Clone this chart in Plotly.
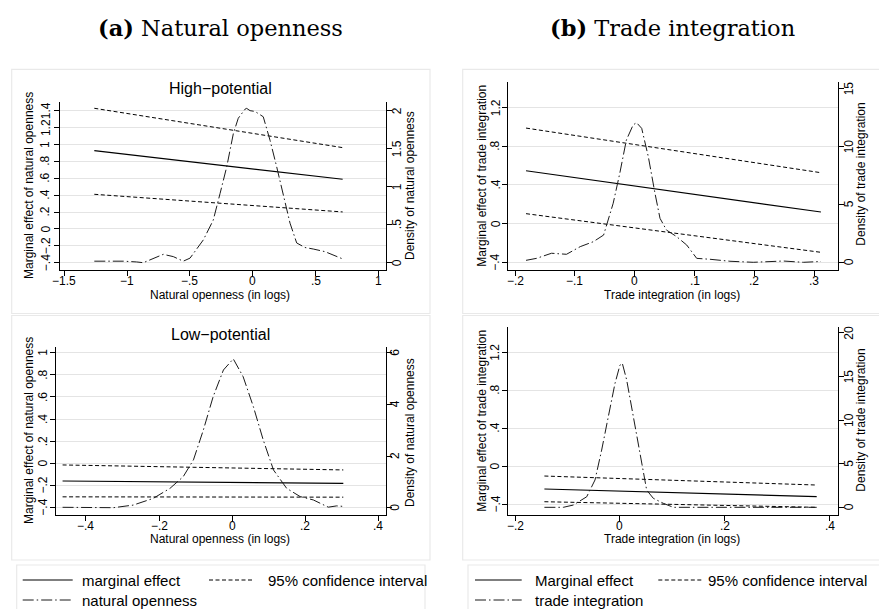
import plotly.graph_objects as go

W, H = 879, 609

# ---------------- data ----------------
# (a) natural openness, high-potential
nat_hi_x = [-1.261, 0.716]
nat_hi_me = [0.927, 0.588]
nat_hi_ci_up = [1.429, 0.963]
nat_hi_ci_lo = [0.410, 0.201]
nat_hi_dens_x = [-1.261, -1.030, -0.924, -0.871, -0.712, -0.632, -0.553, -0.499, -0.393,
                 -0.314, -0.260, -0.207, -0.154, -0.115, -0.061, -0.048, -0.021, 0.018,
                 0.084, 0.138, 0.191, 0.244, 0.297, 0.350, 0.416, 0.482, 0.576, 0.716]
nat_hi_dens_y = [0.02, 0.02, 0.01, 0.00, 0.11, 0.08, 0.02, 0.06, 0.30,
                 0.56, 0.91, 1.26, 1.70, 1.90, 2.02, 2.03, 2.00, 1.99,
                 1.92, 1.61, 1.26, 0.87, 0.52, 0.26, 0.20, 0.18, 0.145, 0.05]

# (a) natural openness, low-potential
nat_lo_x = [-0.464, 0.304]
nat_lo_me = [-0.159, -0.180]
nat_lo_ci_up = [-0.014, -0.059]
nat_lo_ci_lo = [-0.302, -0.305]
nat_lo_dens_x = [-0.464, -0.325, -0.271, -0.216, -0.170, -0.134, -0.106, -0.079, -0.052,
                 -0.024, 0.003, 0.030, 0.058, 0.085, 0.113, 0.149, 0.186, 0.222,
                 0.263, 0.286, 0.304]
nat_lo_dens_y = [0.015, 0.00, 0.10, 0.36, 0.75, 1.20, 1.85, 3.00, 4.30,
                 5.33, 5.76, 5.07, 3.91, 2.62, 1.46, 0.75, 0.43, 0.30,
                 0.02, 0.07, 0.05]

# (b) trade integration, high-potential
trd_hi_x = [-0.1816, 0.311]
trd_hi_me = [0.547, 0.120]
trd_hi_ci_up = [0.989, 0.527]
trd_hi_ci_lo = [0.103, -0.297]
trd_hi_dens_x = [-0.1816, -0.164, -0.139, -0.114, -0.091, -0.069, -0.052, -0.036, -0.025,
                 -0.014, -0.0027, 0.003, 0.0116, 0.0227, 0.0338, 0.0422, 0.053, 0.070,
                 0.0868, 0.1035, 0.1257, 0.159, 0.198, 0.248, 0.2816, 0.311]
trd_hi_dens_y = [0.17, 0.34, 0.78, 0.69, 1.35, 1.78, 2.35, 5.09, 7.67,
                 10.54, 11.84, 12.04, 11.55, 9.10, 5.95, 3.79, 2.78, 2.21,
                 1.49, 0.34, 0.26, 0.09, 0.00, 0.11, 0.00, 0.07]

# (b) trade integration, low-potential
trd_lo_x = [-0.144, 0.3747]
trd_lo_me = [-0.242, -0.323]
trd_lo_ci_up = [-0.105, -0.200]
trd_lo_ci_lo = [-0.376, -0.435]
trd_lo_dens_x = [-0.144, -0.108, -0.089, -0.0634, -0.0476, -0.0349, -0.0222, -0.0095, 0.0,
                 0.0044, 0.0127, 0.0254, 0.0381, 0.0508, 0.0635, 0.0825, 0.1016, 0.165,
                 0.228, 0.3747]
trd_lo_dens_y = [0.0, 0.0, 0.26, 1.21, 3.13, 6.56, 10.4, 14.2, 16.3,
                 16.5, 14.6, 10.4, 5.8, 1.98, 1.03, 0.46, 0.0, 0.0,
                 0.0, 0.0]

# tick values
nat_hi_xticks = [-1.5, -1, -0.5, 0, 0.5, 1]
nat_hi_yticks = [-0.4, -0.2, 0, 0.2, 0.4, 0.6, 0.8, 1, 1.2, 1.4]
nat_hi_dticks = [0, 0.5, 1, 1.5, 2]
nat_lo_xticks = [-0.4, -0.2, 0, 0.2, 0.4]
nat_lo_yticks = [-0.4, -0.2, 0, 0.2, 0.4, 0.6, 0.8, 1]
nat_lo_dticks = [0, 2, 4, 6]
trd_hi_xticks = [-0.2, -0.1, 0, 0.1, 0.2, 0.3]
trd_hi_yticks = [-0.4, 0, 0.4, 0.8, 1.2]
trd_hi_dticks = [0, 5, 10, 15]
trd_lo_xticks = [-0.2, 0, 0.2, 0.4]
trd_lo_yticks = [-0.4, 0, 0.4, 0.8, 1.2]
trd_lo_dticks = [0, 5, 10, 15, 20]

# ---------------- helpers ----------------
SANS = "Liberation Sans, Arial, sans-serif"
SERIF = "DejaVu Serif, Liberation Serif, serif"
AX_FONT = 12
GRID = "#e4e4e4"
BOX = "#e9e9e9"


def fx(p):
    return p / W


def fy(p):
    return 1 - p / H


def lab(v):
    if v == 0:
        return "0"
    s = f"{abs(v):g}"
    if s.startswith("0."):
        s = s[1:]
    return ("\u2212" + s) if v < 0 else s


def xaxis(dom, rng, ticks, anchor):
    return dict(domain=[fx(dom[0]), fx(dom[1])], range=rng, anchor=anchor,
                tickmode="array", tickvals=ticks, showticklabels=False,
                showline=True, linecolor="black", linewidth=1, ticks="outside",
                ticklen=5, tickcolor="black", showgrid=False, zeroline=False)


def yaxis_left(dom, rng, ticks, anchor):
    return dict(domain=[fy(dom[1]), fy(dom[0])], range=rng, anchor=anchor, side="left",
                tickmode="array", tickvals=ticks, showticklabels=False,
                showline=True, linecolor="black", linewidth=1, ticks="outside",
                ticklen=5, tickcolor="black", showgrid=True, gridcolor=GRID,
                gridwidth=1.3, zeroline=False)


def yaxis_right(rng, ticks, anchor, over):
    return dict(range=rng, anchor=anchor, side="right", overlaying=over,
                tickmode="array", tickvals=ticks, showticklabels=False,
                showline=True, linecolor="black", linewidth=1, ticks="outside",
                ticklen=5, tickcolor="black", showgrid=False, zeroline=False)


ME_LINE = dict(color="black", width=1.2)
CI_LINE = dict(color="black", width=1, dash="4px,2.5px")
DENS_LINE = dict(color="#1a1a1a", width=1, dash="11px,3px,1.5px,3px")

fig = go.Figure()

panels = [
    ("x", "y", "y2", nat_hi_x, nat_hi_me, nat_hi_ci_up, nat_hi_ci_lo, nat_hi_dens_x, nat_hi_dens_y),
    ("x2", "y3", "y4", nat_lo_x, nat_lo_me, nat_lo_ci_up, nat_lo_ci_lo, nat_lo_dens_x, nat_lo_dens_y),
    ("x3", "y5", "y6", trd_hi_x, trd_hi_me, trd_hi_ci_up, trd_hi_ci_lo, trd_hi_dens_x, trd_hi_dens_y),
    ("x4", "y7", "y8", trd_lo_x, trd_lo_me, trd_lo_ci_up, trd_lo_ci_lo, trd_lo_dens_x, trd_lo_dens_y),
]

for xa, yl, yr, xs, me, up, lo, dx, dy in panels:
    fig.add_trace(go.Scatter(x=dx, y=dy, mode="lines", line=DENS_LINE, xaxis=xa, yaxis=yr,
                             showlegend=False, hoverinfo="skip"))
    fig.add_trace(go.Scatter(x=xs, y=me, mode="lines", line=ME_LINE, xaxis=xa, yaxis=yl,
                             showlegend=False))
    fig.add_trace(go.Scatter(x=xs, y=up, mode="lines", line=CI_LINE, xaxis=xa, yaxis=yl,
                             showlegend=False))
    fig.add_trace(go.Scatter(x=xs, y=lo, mode="lines", line=CI_LINE, xaxis=xa, yaxis=yl,
                             showlegend=False))

# plot-region geometry (pixels): x0, x1, y_top, y_bottom
geo = {
    "tl": (60, 386, 101.7, 270),
    "bl": (56, 385.7, 346.7, 515),
    "tr": (507.7, 837.7, 81.7, 270),
    "br": (507.7, 837.7, 326.7, 515),
}

layout = dict(
    width=W, height=H, margin=dict(l=0, r=0, t=0, b=0),
    paper_bgcolor="white", plot_bgcolor="rgba(0,0,0,0)", showlegend=False,
    font=dict(family=SANS, color="black"),
    xaxis=xaxis(geo["tl"][:2], [-1.534, 1.061], nat_hi_xticks, "y"),
    yaxis=yaxis_left(geo["tl"][2:], [-0.487, 1.507], nat_hi_yticks, "x"),
    yaxis2=yaxis_right([-0.096, 2.118], nat_hi_dticks, "x", "y"),
    xaxis2=xaxis(geo["bl"][:2], [-0.482, 0.420], nat_lo_xticks, "y3"),
    yaxis3=yaxis_left(geo["bl"][2:], [-0.466, 1.054], nat_lo_yticks, "x2"),
    yaxis4=yaxis_right([-0.283, 6.232], nat_lo_dticks, "x2", "y3"),
    xaxis3=xaxis(geo["tr"][:2], [-0.2122, 0.339], trd_hi_xticks, "y5"),
    yaxis5=yaxis_left(geo["tr"][2:], [-0.48, 1.469], trd_hi_yticks, "x3"),
    yaxis6=yaxis_right([-0.664, 15.57], trd_hi_dticks, "x3", "y5"),
    xaxis4=xaxis(geo["br"][:2], [-0.2139, 0.4147], trd_lo_xticks, "y7"),
    yaxis7=yaxis_left(geo["br"][2:], [-0.516, 1.470], trd_lo_yticks, "x4"),
    yaxis8=yaxis_right([-0.88, 20.69], trd_lo_dticks, "x4", "y7"),
)
fig.update_layout(**layout)

shapes = []
# graph-region frames
for x0, y0, x1, y1 in [(11.7, 69.3, 430, 313.5), (11.7, 315.5, 430, 560),
                       (462.7, 69.3, 885, 313.5), (462.7, 315.5, 885, 560),
                       (16.7, 565, 425, 615), (468, 565, 885, 615)]:
    shapes.append(dict(type="rect", xref="paper", yref="paper",
                       x0=fx(x0), x1=fx(x1), y0=fy(y1), y1=fy(y0),
                       line=dict(color=BOX, width=1.2), fillcolor="rgba(0,0,0,0)", layer="below"))

annotations = []


def text(x, y, s, size=AX_FONT, angle=0, family=SANS, xanchor="center"):
    annotations.append(dict(x=fx(x), y=fy(y), xref="paper", yref="paper", text=s,
                            showarrow=False, textangle=angle, xanchor=xanchor, yanchor="middle",
                            font=dict(family=family, size=size, color="black")))


# tick labels, placed along each axis in data coordinates
def xlabels(xref, ticks, ypix):
    for t in ticks:
        annotations.append(dict(x=t, y=fy(ypix), xref=xref, yref="paper", text=lab(t),
                                showarrow=False, xanchor="center", yanchor="middle",
                                font=dict(family=SANS, size=AX_FONT, color="black")))


def ylabels(yref, ticks, xpix):
    for t in ticks:
        annotations.append(dict(x=fx(xpix), y=t, xref="paper", yref=yref, text=lab(t),
                                showarrow=False, textangle=-90, xanchor="center",
                                yanchor="middle",
                                font=dict(family=SANS, size=AX_FONT, color="black")))


xlabels("x", nat_hi_xticks, 281)
ylabels("y", nat_hi_yticks, 45.5)
ylabels("y2", nat_hi_dticks, 396.5)
xlabels("x2", nat_lo_xticks, 526)
ylabels("y3", nat_lo_yticks, 43)
ylabels("y4", nat_lo_dticks, 395)
xlabels("x3", trd_hi_xticks, 281)
ylabels("y5", trd_hi_yticks, 495.5)
ylabels("y6", trd_hi_dticks, 849)
xlabels("x4", trd_lo_xticks, 526)
ylabels("y7", trd_lo_yticks, 495.5)
ylabels("y8", trd_lo_dticks, 849)

# column headings
text(220, 28, "<b>(a)</b> Natural openness", size=22.5, family=SERIF)
text(672, 28, "<b>(b)</b> Trade integration", size=22.5, family=SERIF)

# panel subtitles
text(220, 88, "High\u2212potential", size=16)
text(220, 334, "Low\u2212potential", size=16)

# axis titles
text(220, 294.5, "Natural openness (in logs)")
text(220, 539, "Natural openness (in logs)")
text(672, 294.5, "Trade integration (in logs)")
text(672, 539, "Trade integration (in logs)")
text(29, 186, "Marginal effect of natural openness", angle=-90)
text(29, 431, "Marginal effect of natural openness", angle=-90)
text(410, 186, "Density of natural openness", angle=-90)
text(410, 433, "Density of natural openness", angle=-90)
text(481.7, 176, "Marginal effect of trade integration", angle=-90)
text(481.7, 421, "Marginal effect of trade integration", angle=-90)
text(860.7, 174, "Density of trade integration", angle=-90)
text(860.7, 420, "Density of trade integration", angle=-90)

# legends
legend_rows = [
    # (sample x0, x1, y, text x, label, line style)
    (22.7, 72.7, 580, 81.7, "marginal effect", ME_LINE),
    (209, 253, 580, 268, "95% confidence interval", CI_LINE),
    (22.7, 72.7, 600, 81.7, "natural openness", DENS_LINE),
    (475, 521.7, 580, 535, "Marginal effect", ME_LINE),
    (658.3, 703.3, 580, 708.3, "95% confidence interval", CI_LINE),
    (475, 521.7, 600, 535, "trade integration", DENS_LINE),
]
for x0, x1, y, tx, label, style in legend_rows:
    shapes.append(dict(type="line", xref="paper", yref="paper", x0=fx(x0), x1=fx(x1),
                       y0=fy(y), y1=fy(y), line=style))
    text(tx - 2, y, label, size=15, xanchor="left")

fig.update_layout(shapes=shapes, annotations=annotations)
fig.write_html("out.html")
